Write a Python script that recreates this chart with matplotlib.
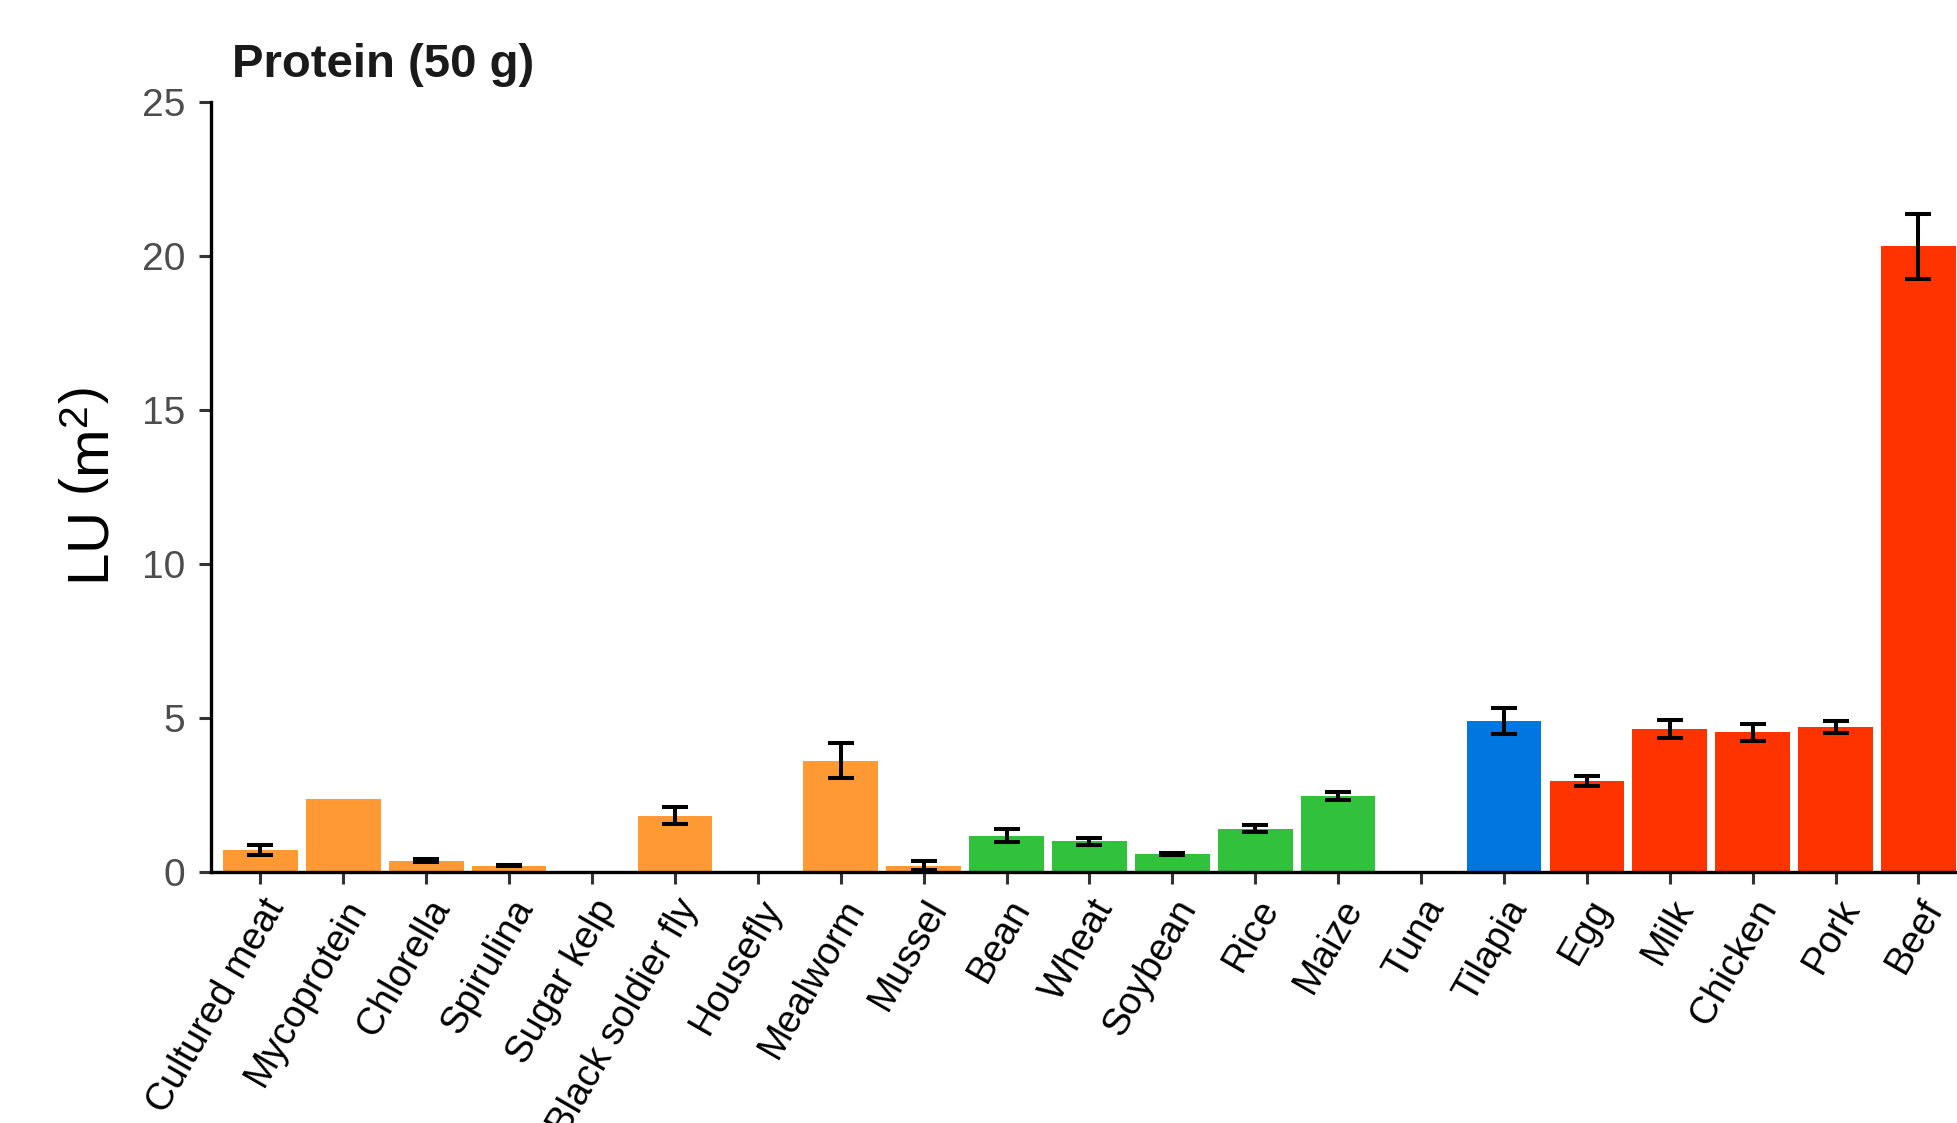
import numpy as np
import matplotlib
matplotlib.use("Agg")
import matplotlib.pyplot as plt

plt.rcParams['font.family'] = ['Liberation Sans', 'DejaVu Sans']
plt.rcParams['mathtext.fontset'] = 'custom'
plt.rcParams['mathtext.rm'] = 'Liberation Sans'
plt.rcParams['mathtext.it'] = 'Liberation Sans:italic'

foods = ['Cultured meat', 'Mycoprotein', 'Chlorella', 'Spirulina', 'Sugar kelp',
         'Black soldier fly', 'Housefly', 'Mealworm', 'Mussel', 'Bean', 'Wheat',
         'Soybean', 'Rice', 'Maize', 'Tuna', 'Tilapia', 'Egg', 'Milk', 'Chicken',
         'Pork', 'Beef']
# land use per 50 g protein (m2), nan = no estimate
lu_mean = [0.70, 2.36, 0.36, 0.20, np.nan, 1.82, np.nan, 3.60, 0.20, 1.17, 0.98,
           0.56, 1.39, 2.46, np.nan, 4.88, 2.95, 4.63, 4.52, 4.69, 20.30]
lu_err = [0.16, np.nan, 0.05, 0.03, np.nan, 0.28, np.nan, 0.57, 0.15, 0.20, 0.10,
          0.03, 0.11, 0.12, np.nan, 0.42, 0.17, 0.30, 0.28, 0.20, 1.06]
group = ['novel'] * 9 + ['crop'] * 5 + ['fish'] * 2 + ['livestock'] * 5

group_colors = {'novel': '#FF9933', 'crop': '#32C13D', 'fish': '#0077E0', 'livestock': '#FF3300'}

fig = plt.figure(figsize=(19.58, 11.23), dpi=100)
ax = fig.add_axes([0.1076, 0.2238, 0.8976, 0.6857])

x = np.arange(1, len(foods) + 1)
mean = np.array(lu_mean)
err = np.array(lu_err)
colors = [group_colors[g] for g in group]

ax.bar(x, np.nan_to_num(mean), width=0.9, color=colors, zorder=2)
has_err = ~np.isnan(err)
ax.errorbar(x[has_err], mean[has_err], yerr=err[has_err], fmt='none',
            ecolor='black', elinewidth=2.9, capsize=9.1, capthick=2.9, zorder=3)

ax.set_xlim(0.4, len(foods) + 0.6)
ax.set_ylim(0, 25)
ax.set_yticks([0, 5, 10, 15, 20, 25])
ax.set_xticks(x)
ax.set_xticklabels(foods, rotation=60, ha='right', va='top', rotation_mode='anchor')

for side in ['top', 'right']:
    ax.spines[side].set_visible(False)
for side in ['left', 'bottom']:
    ax.spines[side].set_linewidth(2.4)
    ax.spines[side].set_color('black')
    ax.spines[side].set_capstyle('projecting')

ax.tick_params(axis='both', length=8.5, width=2.2, color='#333333')
ax.tick_params(axis='y', labelsize=28, labelcolor='#4D4D4D', pad=10)
ax.tick_params(axis='x', labelsize=27.5, labelcolor='black', pad=7)

fig.text(232 / 1958, 1 - 77 / 1123, 'Protein (50 g)', fontsize=34, fontweight='bold',
         ha='left', va='baseline', color='#1A1A1A')
fig.text(94 / 1958, 1 - 487 / 1123, r'LU $\left(\mathrm{m}^{2}\right)$', fontsize=42,
         rotation=90, ha='center', va='center', color='black')

fig.savefig('out.png', dpi=100)
